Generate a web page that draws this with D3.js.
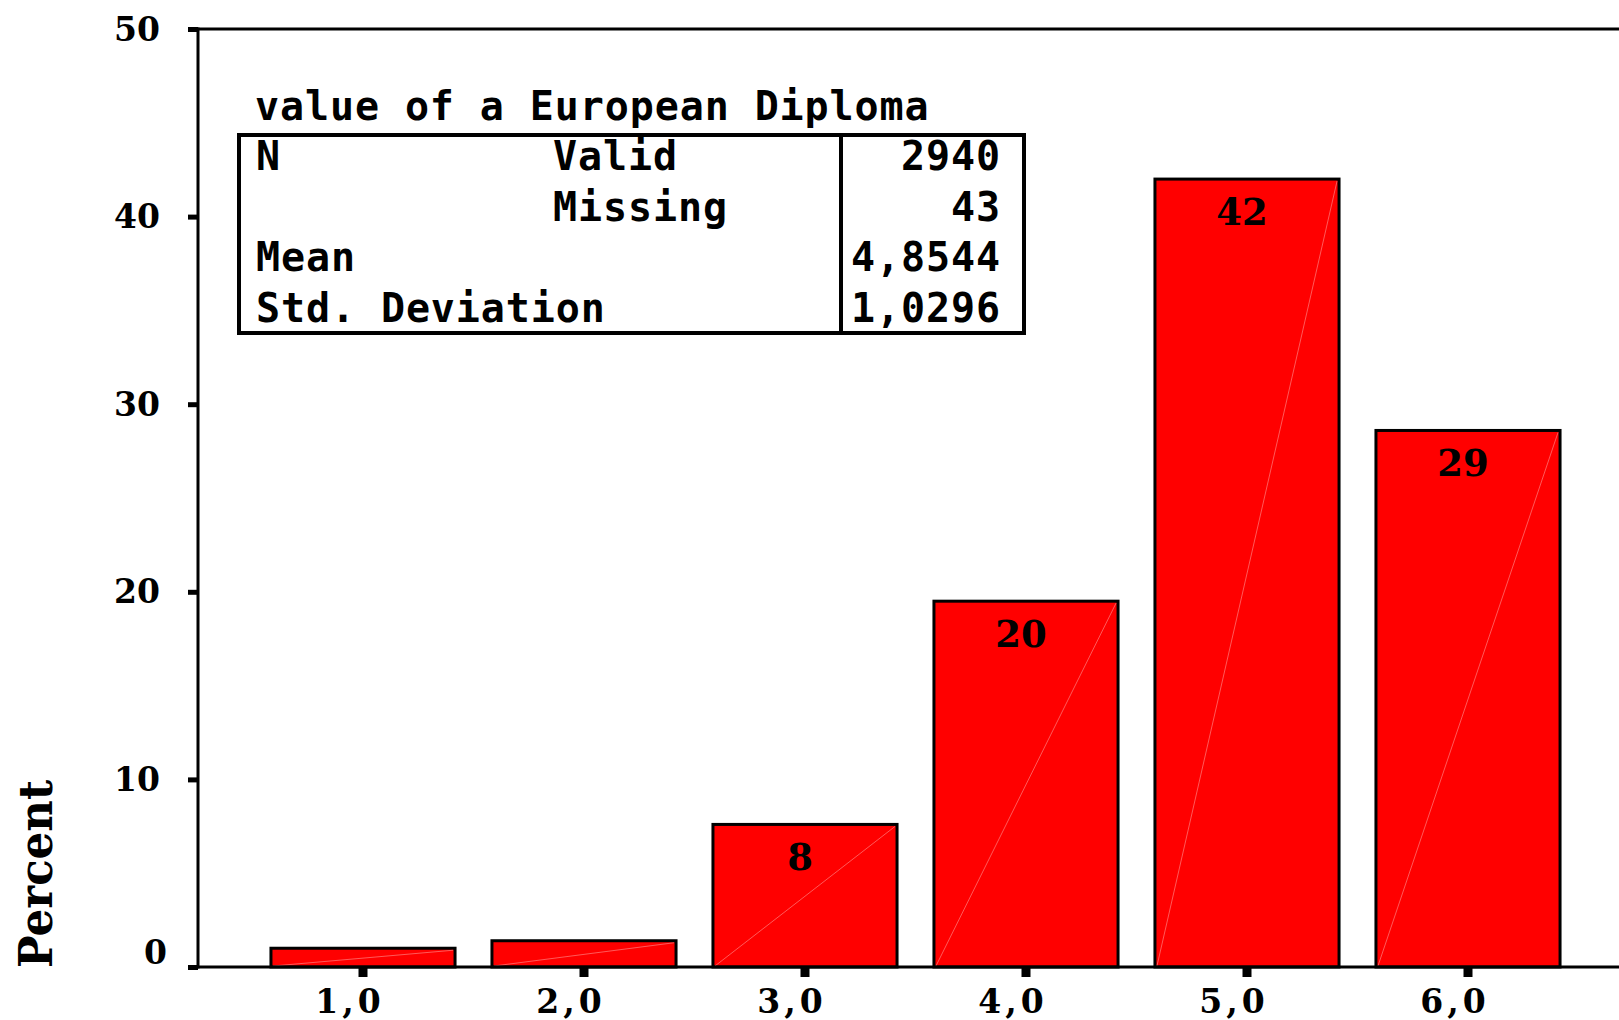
<!DOCTYPE html>
<html>
<head>
<meta charset="utf-8">
<script src="https://cdn.jsdelivr.net/npm/d3@7/dist/d3.min.js"></script>
<style>
  html, body { margin: 0; padding: 0; background: #ffffff; }
  svg { display: block; }
</style>
</head>
<body>
<svg id="chart" width="1619" height="1020"></svg>
<script>
// ---- data ----
const categories = ["1,0", "2,0", "3,0", "4,0", "5,0", "6,0"];
const percents = [1.0, 1.4, 7.6, 19.5, 42.0, 28.6];
const barLabels = [null, null, "8", "20", "42", "29"];
const yTicks = [0, 10, 20, 30, 40, 50];
const yAxisTitle = "Percent";

const statsTitle = "value of a European Diploma";
const statsRowLabels = ["N", "", "Mean", "Std. Deviation"];
const statsRowSubLabels = ["Valid", "Missing", "", ""];
const statsRowValues = ["2940", "43", "4,8544", "1,0296"];

// ---- layout ----
const W = 1619, H = 1020;
const axisX = 198, topY = 29, baseY = 967;
const serif = "'DejaVu Serif', 'Liberation Serif', serif";
const mono = "'DejaVu Sans Mono', 'Liberation Mono', monospace";

const svg = d3.select("#chart");

const y = d3.scaleLinear().domain([0, 50]).range([baseY, topY]);
const x = d3.scaleBand().domain(categories).range([252.5, 1578.5])
  .paddingInner(0.167).paddingOuter(0.0835);

// bars
const bars = svg.append("g");
bars.selectAll("rect").data(percents).join("rect")
  .attr("x", (d, i) => x(categories[i]))
  .attr("y", d => y(d))
  .attr("width", x.bandwidth())
  .attr("height", d => y(0) - y(d))
  .attr("fill", "#ff0000")
  .attr("stroke", "#000")
  .attr("stroke-width", 3);

// faint diagonal artefact lines
bars.selectAll("line").data(percents).join("line")
  .attr("x1", (d, i) => x(categories[i]) + 2)
  .attr("y1", y(0) - 1)
  .attr("x2", (d, i) => x(categories[i]) + x.bandwidth() - 2)
  .attr("y2", d => y(d) + 2)
  .attr("stroke", "rgba(255,255,255,0.5)")
  .attr("stroke-width", 0.7);

// bar value labels
svg.append("g").selectAll("text").data(percents.map((v, i) => ({v, i})).filter(d => barLabels[d.i] !== null))
  .join("text")
  .attr("x", d => x(categories[d.i]) + x.bandwidth() / 2 - 5)
  .attr("y", d => y(d.v) + 46)
  .attr("text-anchor", "middle")
  .attr("font-family", serif)
  .attr("font-weight", "bold")
  .attr("font-size", 37)
  .attr("fill", "#000")
  .text(d => barLabels[d.i]);

// frame lines
svg.append("line").attr("x1", axisX).attr("x2", W).attr("y1", topY).attr("y2", topY)
  .attr("stroke", "#000").attr("stroke-width", 3);
svg.append("line").attr("x1", axisX).attr("x2", W).attr("y1", baseY).attr("y2", baseY)
  .attr("stroke", "#000").attr("stroke-width", 3);
svg.append("line").attr("x1", axisX).attr("x2", axisX).attr("y1", topY - 1.5).attr("y2", baseY + 1.5)
  .attr("stroke", "#000").attr("stroke-width", 3);

// y axis
const gy = svg.append("g").attr("transform", `translate(${axisX},0)`)
  .call(d3.axisLeft(y).tickValues(yTicks).tickSize(10).tickPadding(28).tickFormat(d3.format("d")));
gy.select(".domain").remove();
gy.selectAll(".tick line").attr("stroke", "#000").attr("stroke-width", 5);
gy.selectAll(".tick text")
  .attr("font-family", serif).attr("font-weight", "bold").attr("font-size", 33)
  .attr("fill", "#000").attr("dy", null).attr("y", 11);
gy.selectAll(".tick").filter(d => d === 0).select("text")
  .attr("x", -31).attr("y", -4);

// x axis
const gx = svg.append("g").attr("transform", `translate(0,${baseY})`)
  .call(d3.axisBottom(x).tickSize(10).tickPadding(0));
gx.select(".domain").remove();
gx.selectAll(".tick line").attr("stroke", "#000").attr("stroke-width", 9);
gx.selectAll(".tick text")
  .attr("font-family", serif).attr("font-weight", "bold").attr("font-size", 33)
  .attr("fill", "#000").attr("dy", null).attr("y", 46).attr("x", -13)
  .attr("letter-spacing", 4);

// y axis title
svg.append("text")
  .attr("transform", "translate(52,968) rotate(-90)")
  .attr("text-anchor", "start")
  .attr("font-family", serif).attr("font-weight", "bold").attr("font-size", 46)
  .attr("textLength", 188).attr("lengthAdjust", "spacingAndGlyphs")
  .attr("fill", "#000")
  .text(yAxisTitle);

// stats table
const tbl = svg.append("g");
const ls = 0.9;
const txt = (s, xx, yy, anchor) => tbl.append("text")
  .attr("x", xx).attr("y", yy).attr("text-anchor", anchor || "start")
  .attr("font-family", mono).attr("font-weight", "bold").attr("font-size", 40)
  .attr("letter-spacing", ls).attr("fill", "#000").text(s);

txt(statsTitle, 255, 120);
tbl.append("rect").attr("x", 239).attr("y", 135).attr("width", 785).attr("height", 198)
  .attr("fill", "none").attr("stroke", "#000").attr("stroke-width", 4);
tbl.append("line").attr("x1", 841).attr("x2", 841).attr("y1", 135).attr("y2", 333)
  .attr("stroke", "#000").attr("stroke-width", 4);
const rowY = [170, 221, 271, 322];
statsRowLabels.forEach((s, i) => { if (s) txt(s, 256, rowY[i]); });
statsRowSubLabels.forEach((s, i) => { if (s) txt(s, 553, rowY[i]); });
statsRowValues.forEach((s, i) => txt(s, 1000 + ls, rowY[i], "end"));
</script>
</body>
</html>
